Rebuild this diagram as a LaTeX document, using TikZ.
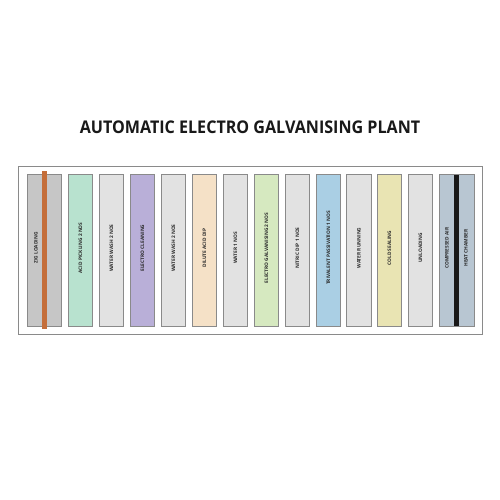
\documentclass[tikz,border=0pt]{standalone}
\usepackage{fontspec}
\setmainfont{Open Sans}
\definecolor{frame}{HTML}{8A8A8A}
\definecolor{cgray}{HTML}{C6C6C6}
\definecolor{clight}{HTML}{E2E2E2}
\definecolor{cmint}{HTML}{B8E2CF}
\definecolor{clav}{HTML}{B9AFD8}
\definecolor{cpeach}{HTML}{F5E1C7}
\definecolor{cgreen}{HTML}{D6E9C0}
\definecolor{cblue}{HTML}{AACFE4}
\definecolor{cyellow}{HTML}{E9E4B3}
\definecolor{cbgray}{HTML}{B8C6D2}
\definecolor{corange}{HTML}{C46E3A}
\definecolor{ctext}{HTML}{2A2A2A}
\tikzset{
  tank/.style={draw=frame, line width=0.9pt, minimum height=152pt, inner sep=0pt},
  lbl/.style={rotate=90, font=\fontsize{4.8}{5}\selectfont\bfseries, text=ctext, inner sep=0pt},
}
\begin{document}
\begin{tikzpicture}[x=1pt,y=-1pt]
\useasboundingbox (0,0) rectangle (500,500);
\fill[white] (0,0) rectangle (500,500);
\node[font=\fontsize{17.5}{20}\selectfont\bfseries, text=black!90, xscale=0.92] (title) at (250,127) {AUTOMATIC ELECTRO GALVANISING PLANT};
\node[draw=frame, line width=1pt, minimum width=464pt, minimum height=168pt, inner sep=0pt] (frame) at (250,250) {};
% first tank
\node[tank, fill=cgray, minimum width=34pt] (t1) at (44,250) {};
\node[lbl] (l1) at (36,248) {ZIG LOADING};
\fill[corange] (42,171) rectangle (47,329);
% middle tanks
\foreach \i/\x/\c/\t in {2/80.5/cmint/ACID PICKLING 2 NOS,
  3/111.5/clight/WATER WASH 2 NOS,
  4/142.5/clav/ELECTRO CLEANING,
  5/173.5/clight/WATER WASH 2 NOS,
  6/204.5/cpeach/DILUTE ACID DIP,
  7/235.5/clight/WATER 1 NOS,
  8/266.5/cgreen/ELECTRO GALVANISING 2 NOS,
  9/297.5/clight/NITRIC DIP 1 NOS,
  10/328.5/cblue/TRIVALENT PASSIVATION 1 NOS,
  11/359/clight/WATER RUNNING,
  12/389.5/cyellow/COLD SEALING,
  13/420.5/clight/UNLOADING}{
  \node[tank, fill=\c, minimum width=24.5pt] (t\i) at (\x,250) {};
  \node[lbl] (l\i) at (\x,248) {\t};
}
% last tank
\node[tank, fill=cbgray, minimum width=35pt] (t14) at (456.5,250) {};
\fill[black!90] (454,175) rectangle (459,326);
\node[lbl] (l14a) at (447,248) {COMPRESSED AIR};
\node[lbl] (l14b) at (466,248) {HEAT CHAMBER};
\end{tikzpicture}
\end{document}
